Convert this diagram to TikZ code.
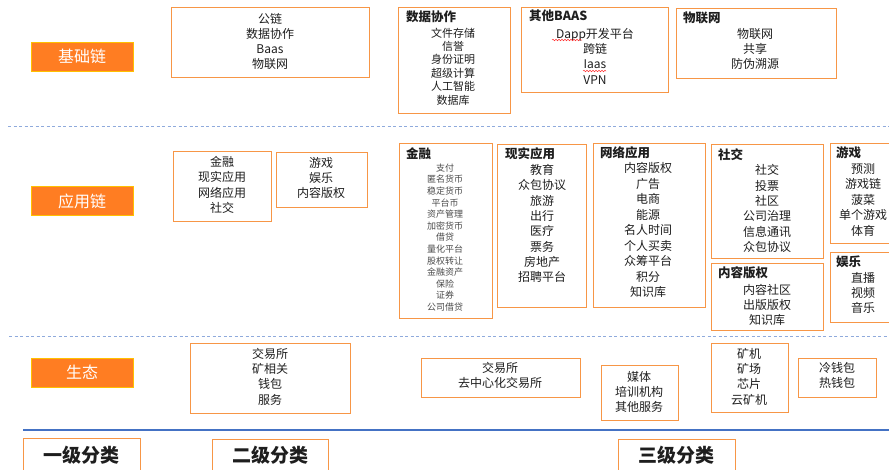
\documentclass[tikz,border=0pt]{standalone}
\usepackage{fontspec}
\setmainfont{Noto Sans CJK SC}
\usetikzlibrary{decorations.pathmorphing}
\definecolor{lab}{HTML}{FF7D22}
\definecolor{labb}{HTML}{FFC000}
\definecolor{boxc}{HTML}{F79646}
\definecolor{dashc}{HTML}{8FAADC}
\definecolor{solidc}{HTML}{4472C4}
\definecolor{txt}{HTML}{1E1E1E}
\tikzset{
  box/.style={draw=boxc, line width=1.3pt, anchor=north west, inner sep=0pt, rectangle},
  lbl/.style={fill=lab, draw=labb, line width=0.8pt, minimum width=102pt, minimum height=29pt,
     text=white, font=\fontsize{16}{18}\selectfont, inner sep=0pt},
  items/.style={align=center, inner sep=0pt, text=txt, font=\fontsize{12}{15.3}\selectfont},
  smallitems/.style={align=center, inner sep=0pt, text=txt!80, font=\fontsize{9}{11.6}\selectfont},
  miditems/.style={align=center, inner sep=0pt, text=txt, font=\fontsize{11}{13.4}\selectfont},
  ttl/.style={anchor=west, inner sep=0pt, text=txt, font=\fontsize{12.5}{15}\selectfont\bfseries},
  cat/.style={anchor=center, inner sep=0pt, text=txt, font=\fontsize{19}{22}\selectfont\bfseries},
  dline/.style={draw=dashc, line width=1pt, dash pattern=on 3pt off 2.5pt},
  sline/.style={draw=solidc, line width=1.2pt},
  squig/.style={draw=red!80, line width=0.5pt, decorate, decoration={snake, amplitude=0.8pt, segment length=3pt}}
}
\begin{document}
\begin{tikzpicture}[x=1pt,y=-1pt]
\clip (0,0) rectangle (889,469);
\fill[white] (0,0) rectangle (889,469);

% separators
\coordinate (d1a) at (8,126);  \coordinate (d1b) at (889,126);
\coordinate (d2a) at (9,336);  \coordinate (d2b) at (889,336);
\coordinate (s1a) at (23,430); \coordinate (s1b) at (889,430);
\draw[dline] (d1a) -- (d1b);
\draw[dline] (d2a) -- (d2b);
\draw[sline] (s1a) -- (s1b);

% row labels
\node[lbl] (L1) at (82,56.5) {基础链};
\node[lbl] (L2) at (82,201) {应用链};
\node[lbl] (L3) at (82,372.5) {生态};

% ---- top row ----
\node[box, minimum width=198pt, minimum height=70pt] (A1) at (171,7) {};
\node[items] (A1t) at (270,41.5) {公链\\数据协作\\Baas\\物联网};

\node[box, minimum width=112pt, minimum height=106pt] (A2) at (398,7) {};
\node[ttl] (A2h) at (406,17) {数据协作};
\node[miditems] (A2t) at (453,66.5) {文件存储\\信誉\\身份证明\\超级计算\\人工智能\\数据库};

\node[box, minimum width=147pt, minimum height=85pt] (A3) at (521,7) {};
\node[ttl] (A3h) at (529,16) {其他BAAS};
\node[items] (A3t) at (595,56) {Dapp开发平台\\跨链\\Iaas\\VPN};
\draw[squig] (552,40) -- (582,40);
\draw[squig] (583,71) -- (606,71);

\node[box, minimum width=160pt, minimum height=70pt] (A4) at (676,8) {};
\node[ttl] (A4h) at (683,18) {物联网};
\node[items] (A4t) at (755,49) {物联网\\共享\\防伪溯源};

% ---- middle row ----
\node[box, minimum width=98pt, minimum height=70pt] (B1) at (173,151) {};
\node[items] (B1t) at (222,185) {金融\\现实应用\\网络应用\\社交};

\node[box, minimum width=91pt, minimum height=55pt] (B2) at (276,152) {};
\node[items] (B2t) at (321,178) {游戏\\娱乐\\内容版权};

\node[box, minimum width=93pt, minimum height=175pt] (C1) at (399,143) {};
\node[ttl] (C1h) at (406,154) {金融};
\node[smallitems] (C1t) at (445,237.5) {支付\\匿名货币\\稳定货币\\平台币\\资产管理\\加密货币\\借贷\\量化平台\\股权转让\\金融资产\\保险\\证券\\公司借贷};

\node[box, minimum width=89pt, minimum height=163pt] (C2) at (497,144) {};
\node[ttl] (C2h) at (505,154) {现实应用};
\node[items] (C2t) at (542,223.5) {教育\\众包协议\\旅游\\出行\\医疗\\票务\\房地产\\招聘平台};

\node[box, minimum width=112pt, minimum height=164pt] (C3) at (593,143) {};
\node[ttl] (C3h) at (600,153) {网络应用};
\node[items, font=\fontsize{12}{15.5}\selectfont] (C3t) at (648,230) {内容版权\\广告\\电商\\能源\\名人时间\\个人买卖\\众筹平台\\积分\\知识库};

\node[box, minimum width=112pt, minimum height=114pt] (C4) at (711,144) {};
\node[ttl] (C4h) at (718,155) {社交};
\node[items] (C4t) at (767,208.5) {社交\\投票\\社区\\公司治理\\信息通讯\\众包协议};

\node[box, minimum width=112pt, minimum height=67pt] (C5) at (711,263) {};
\node[ttl] (C5h) at (718,273) {内容版权};
\node[items] (C5t) at (767,305) {内容社区\\出版版权\\知识库};

\node[box, minimum width=70pt, minimum height=100pt] (C6) at (830,143) {};
\node[ttl] (C6h) at (836,153) {游戏};
\node[items, font=\fontsize{12}{15.5}\selectfont] (C6t) at (863,200) {预测\\游戏链\\菠菜\\单个游戏\\体育};

\node[box, minimum width=70pt, minimum height=70pt] (C7) at (830,252) {};
\node[ttl] (C7h) at (836,262) {娱乐};
\node[items] (C7t) at (863,293) {直播\\视频\\音乐};

% ---- bottom row ----
\node[box, minimum width=160pt, minimum height=70pt] (D1) at (190,343) {};
\node[items] (D1t) at (270,376.5) {交易所\\矿相关\\钱包\\服务};

\node[box, minimum width=159pt, minimum height=39pt] (E1) at (421,358) {};
\node[items] (E1t) at (500,375.5) {交易所\\去中心化交易所};

\node[box, minimum width=77pt, minimum height=55pt] (E2) at (601,365) {};
\node[items] (E2t) at (639,392) {媒体\\培训机构\\其他服务};

\node[box, minimum width=77pt, minimum height=69pt] (E3) at (711,343) {};
\node[items] (E3t) at (749,376.5) {矿机\\矿场\\芯片\\云矿机};

\node[box, minimum width=78pt, minimum height=39pt] (E4) at (798,358) {};
\node[items] (E4t) at (837,375.5) {冷钱包\\热钱包};

% ---- category boxes ----
\node[box, minimum width=117pt, minimum height=45pt] (K1) at (23,438) {};
\node[cat] (K1t) at (81,455) {一级分类};
\node[box, minimum width=116pt, minimum height=45pt] (K2) at (212,439) {};
\node[cat] (K2t) at (270,455) {二级分类};
\node[box, minimum width=117pt, minimum height=45pt] (K3) at (618,439) {};
\node[cat] (K3t) at (676,455) {三级分类};
\end{tikzpicture}
\end{document}
